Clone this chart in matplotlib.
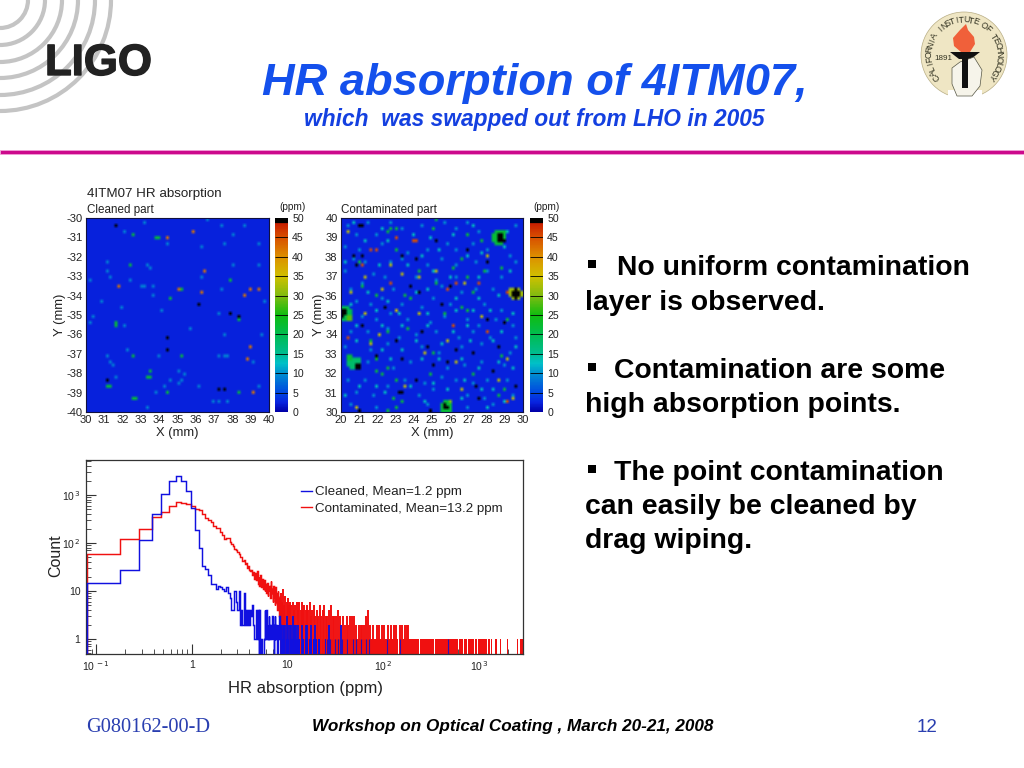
import numpy as np
import matplotlib
matplotlib.use('Agg')
import matplotlib.pyplot as plt
import matplotlib.patheffects as pe
from matplotlib.colors import LinearSegmentedColormap
from matplotlib.lines import Line2D
from matplotlib.patches import Circle, Polygon, Rectangle, Arc

plt.rcParams['font.family'] = ['Liberation Sans', 'DejaVu Sans']
plt.rcParams['axes.unicode_minus'] = False

W, H = 1024, 768

# ---- histogram data: bins of 0.1 ppm starting at 0.08 ppm
blue_counts = [15, 28, 115, 410, 1050, 2000, 2500, 2000, 1230, 525,
               185, 78, 33, 29, 22, 14, 14, 11, 13, 12,
               11, 10, 12, 9, 7, 4, 4, 10, 6, 4,
               10, 2, 4, 2, 9, 2, 4, 2, 4, 2,
               4, 3, 5, 2, 1, 1, 4, 1, 4, 0,
               4, 0, 1, 0, 0, 0, 1, 4, 1, 4,
               1, 2, 1, 3, 1, 2, 1, 1, 3, 1,
               2, 0, 1, 3, 1, 2, 1, 0, 2, 1,
               1, 3, 1, 2]
red_counts = [60, 120, 195, 350, 440, 580, 700, 680, 660, 600,
              520, 480, 400, 340, 300, 270, 230, 210, 205, 170,
              150, 120, 130, 130, 105, 95, 85, 75, 70, 65,
              58, 52, 50, 42, 44, 36, 38, 30, 33, 28,
              26, 27, 22, 25, 18, 24, 17, 26, 14, 20,
              13, 22, 12, 18, 14, 11, 17, 10, 14, 9,
              15, 8, 12, 10, 13, 7, 16, 9, 11, 6,
              13, 7, 10, 5, 12, 6, 9, 4, 10, 5,
              7, 3, 8, 4]

# sparse tail of the histograms: spike position (ppm) and count
red_spike_x = [8.5, 8.8, 9.0, 9.3, 9.5, 9.8, 10.1, 10.4, 10.7, 11.0, 11.4, 11.8, 12.1, 12.5,
               12.9, 13.3, 13.7, 14.1, 14.6, 15.0, 15.5, 16.0, 16.5, 17.0, 17.6, 18.2, 18.9,
               19.6, 20.3, 21.0, 21.8, 22.6, 23.5, 24.3, 25.2, 26.1, 27.2, 28.4, 29.6, 30.8,
               32.0, 33.5, 35.0, 36.5, 38.0, 39.8, 41.5, 43.0, 45.0, 47.5, 49.5, 52.0, 56.0,
               58.0, 60.0, 63.0, 66.0, 68.5, 72.0, 79.0, 85.0, 91.0, 97.0, 103.0, 112.0,
               120.0, 128.0, 137.0, 150.0, 158.0, 168.0, 178.0, 182.0]
red_spike_n = [9, 6, 11, 5, 8, 6, 7, 5, 6, 5, 6, 4, 5, 6, 4, 6, 4, 6, 4, 5, 4, 5, 4, 6, 3,
               4, 5, 3, 4, 3, 5, 3, 4, 5, 3, 3, 4, 5, 3, 3, 3, 4, 3, 2, 3, 2, 3, 2, 3, 3,
               3, 2, 2, 2, 2, 2, 3, 4, 2, 2, 2, 2, 2, 2, 2, 2, 2, 2, 2, 2, 2, 2, 2]
red_band_start = [8.4, 22.8, 30.0, 43.5, 51.0, 55.0, 62.0, 70.0, 82.0, 100.0, 145.0, 240.0,
                  345.0, 475.0, 540.0, 620.0, 690.0, 760.0, 830.0, 900.0, 970.0, 1060.0,
                  1140.0, 1230.0, 1320.0, 1480.0, 1670.0, 1720.0, 1980.0, 2500.0, 2700.0]
red_band_end = [22.4, 29.6, 43.0, 50.5, 54.5, 61.0, 69.0, 81.0, 99.0, 144.0, 238.0, 340.0,
                470.0, 535.0, 610.0, 680.0, 750.0, 820.0, 890.0, 955.0, 1045.0, 1120.0,
                1210.0, 1300.0, 1380.0, 1530.0, 1690.0, 1750.0, 2000.0, 2560.0, 2880.0]
blue_spike_x = [8.6, 8.9, 9.1, 9.4, 9.8, 10.1, 10.5, 10.9, 11.3, 11.6, 12.0, 12.4, 13.0, 14.2,
                15.6, 16.1, 17.7, 19.5, 27.0, 36.0]
blue_spike_n = [2, 2, 2, 2, 3, 2, 2, 2, 3, 2, 2, 2, 2, 2, 2, 2, 2, 2, 2, 2]
blue_band_start = [8.5, 9.7, 10.6, 11.7, 14.0, 15.1, 16.9, 18.3, 20.8, 24.5]
blue_band_end = [9.4, 10.3, 11.4, 13.6, 14.7, 16.4, 18.0, 20.2, 22.0, 25.4]
blue_line_x = [26, 28, 31, 33.5, 37, 42, 48, 52, 58, 66, 71, 110, 150, 470]

# ---- absorption maps, spots as (x mm, y mm) grouped by ppm level
clean_spots_8 = [(37.4, -30.45), (38.6, -30.35), (33.2, -30.25), (34.5, -31.35), (39.5, -31.3),
                 (36.4, -31.45), (31.1, -32.25), (39.5, -32.45), (31.1, -32.8), (30.2, -33.2),
                 (32.4, -33.15), (33.6, -33.45), (37.4, -33.65), (30.9, -34.25), (39.8, -34.35),
                 (31.9, -34.6), (30.35, -35.05), (32.1, -35.6), (35.7, -35.75), (32.3, -36.75),
                 (31.1, -37.15), (34.0, -37.05), (37.3, -37.15), (39.1, -37.45), (31.4, -37.35),
                 (31.5, -37.65), (35.0, -37.95), (35.2, -38.3), (31.6, -38.2), (34.3, -38.7),
                 (35.1, -38.45), (36.1, -38.6), (39.5, -38.6), (37.3, -39.4), (37.0, -39.5),
                 (37.8, -39.5), (33.3, -39.75), (32.1, -30.75), (38.0, -30.85), (37.5, -31.4),
                 (33.7, -34.05), (34.2, -34.8), (37.3, -34.95), (36.4, -33.1), (37.6, -36.05),
                 (39.55, -36.05), (37.6, -37.05), (37.8, -37.05), (35.4, -38.1), (34.6, -38.4),
                 (33.9, -39.0), (31.3, -33.05), (30.2, -35.4), (33.3, -32.5), (33.5, -32.55),
                 (38.1, -32.45), (33.0, -33.45), (33.2, -33.45), (36.7, -30.05)]
clean_spots_20 = [(32.6, -30.9), (33.9, -31.05), (34.0, -31.05), (32.4, -32.35), (37.9, -33.2),
                  (35.3, -33.65), (34.6, -34.1), (31.6, -35.35), (31.6, -35.55), (32.6, -37.05),
                  (35.2, -37.15), (33.5, -37.85), (33.5, -38.25), (33.3, -38.25), (38.4, -39.05),
                  (32.6, -39.25), (32.8, -39.25), (31.2, -38.65), (31.4, -38.65), (38.4, -35.25),
                  (34.4, -39.05)]
clean_spots_40 = [(34.4, -31.0), (35.8, -30.65), (31.8, -33.45), (35.0, -33.65), (39.0, -33.75),
                  (39.4, -33.7), (36.3, -33.85), (38.7, -34.05), (39.0, -36.6), (38.8, -37.25),
                  (39.1, -38.95), (36.5, -32.75)]
clean_spots_50 = [(31.6, -30.35), (31.7, -30.35), (36.2, -34.45), (37.9, -34.95), (38.3, -35.15),
                  (34.4, -36.1), (34.4, -36.75), (31.15, -38.4), (37.3, -38.85), (37.5, -38.8),
                  (37.2, -38.9)]

cont_spots_8 = [(20.4, 39.6), (20.9, 39.2), (21.5, 39.7), (22.0, 39.1), (22.8, 39.7), (23.3, 39.4),
                (24.4, 39.6), (25.7, 39.7), (26.4, 39.4), (27.0, 39.8), (27.6, 39.3), (29.6, 39.6),
                (20.3, 38.5), (21.0, 38.4), (22.3, 38.6), (23.7, 38.2), (24.7, 38.4), (25.9, 38.7),
                (26.3, 38.3), (27.2, 38.6), (28.0, 38.4), (29.3, 38.1), (20.7, 37.9), (21.4, 37.8),
                (22.8, 37.7), (23.3, 37.9), (24.8, 37.6), (25.6, 37.9), (26.4, 37.5), (27.4, 37.8),
                (29.6, 37.7), (20.2, 37.2), (21.8, 37.1), (22.4, 36.9), (24.2, 37.0), (25.2, 36.8),
                (26.3, 36.9), (28.1, 37.2), (28.9, 36.9), (20.6, 36.4), (21.2, 36.7), (22.9, 36.3),
                (23.8, 36.5), (25.6, 36.5), (26.7, 36.2), (27.4, 36.4), (28.3, 36.3), (20.9, 35.7),
                (21.6, 35.5), (22.3, 35.9), (23.4, 35.6), (24.4, 35.4), (25.1, 35.8), (26.0, 35.5),
                (27.9, 35.6), (28.8, 35.3), (21.1, 34.9), (22.0, 34.7), (22.7, 35.0), (23.6, 34.8),
                (24.9, 34.6), (25.7, 34.9), (26.9, 34.7), (27.6, 34.5), (28.5, 34.8), (29.4, 34.4),
                (20.5, 34.2), (21.5, 34.1), (22.5, 34.3), (23.2, 33.9), (24.2, 34.0), (25.3, 34.2),
                (26.5, 33.9), (27.3, 34.1), (28.2, 33.8), (29.6, 33.9), (20.3, 33.4), (21.7, 33.2),
                (22.6, 33.5), (24.5, 33.4), (25.4, 33.1), (26.6, 33.3), (27.7, 33.5), (28.7, 33.3),
                (29.3, 33.1), (21.5, 32.5), (22.9, 32.3), (23.9, 32.5), (25.8, 32.3), (26.8, 32.4),
                (27.8, 32.6), (29.0, 32.4), (20.4, 31.7), (21.4, 31.6), (22.5, 31.4), (23.5, 31.7),
                (24.6, 31.5), (25.5, 31.8), (26.4, 31.6), (27.3, 31.5), (28.1, 31.7), (29.2, 31.6),
                (20.9, 31.0), (21.8, 30.8), (24.3, 30.9), (25.1, 31.1), (27.0, 30.9), (27.9, 30.7),
                (29.5, 30.9), (20.6, 30.4), (22.0, 30.3), (24.7, 30.4), (26.9, 30.3), (28.4, 30.4)]
cont_spots_13 = [(20.7, 39.8), (22.3, 39.4), (24.0, 39.2), (24.9, 39.0), (26.1, 39.1), (27.3, 39.6),
                 (29.2, 39.3), (21.3, 38.8), (22.6, 38.9), (24.5, 38.0), (25.4, 38.3), (26.9, 38.0),
                 (27.7, 38.2), (29.0, 38.5), (20.3, 37.7), (22.1, 37.5), (23.7, 37.5), (25.1, 37.2),
                 (26.0, 37.0), (27.6, 37.0), (29.3, 37.3), (21.5, 36.2), (22.5, 35.7), (24.1, 36.2),
                 (24.8, 36.4), (26.3, 35.9), (27.6, 35.9), (28.6, 36.0), (20.5, 35.6), (21.9, 35.2),
                 (23.2, 35.1), (24.7, 35.1), (26.3, 35.2), (27.3, 35.3), (28.2, 35.2), (29.5, 35.0),
                 (20.9, 34.5), (22.2, 34.5), (23.4, 34.4), (24.7, 34.4), (26.2, 34.2), (27.0, 34.4),
                 (28.8, 34.2), (20.8, 33.6), (22.3, 33.2), (23.4, 33.2), (24.1, 33.6), (25.6, 33.5),
                 (27.1, 33.7), (28.3, 33.6), (29.6, 33.4), (22.7, 32.8), (24.4, 32.7), (25.4, 32.7),
                 (26.6, 32.8), (27.5, 32.2), (28.6, 32.5), (29.5, 32.3), (21.0, 31.4), (21.9, 31.3),
                 (23.9, 31.3), (25.0, 31.5), (25.9, 31.2), (26.8, 31.7), (27.7, 31.1), (28.4, 31.2),
                 (20.3, 30.9), (22.4, 31.0), (24.6, 30.6), (26.6, 30.7), (28.1, 30.2), (29.0, 30.5)]
cont_spots_20 = [(22.6, 39.35), (22.8, 39.4), (23.1, 39.45), (25.1, 39.5), (25.3, 39.9), (26.9, 39.1),
                 (27.7, 38.9), (23.0, 38.4), (21.0, 37.7), (26.1, 37.4), (26.7, 37.95), (27.9, 37.3),
                 (28.8, 37.4), (24.3, 37.2), (21.2, 36.5), (25.3, 36.7), (27.0, 37.0), (27.2, 36.1),
                 (21.9, 36.05), (23.5, 36.0), (23.9, 35.9), (26.6, 35.4), (26.9, 35.2), (25.7, 35.1),
                 (29.2, 34.7), (22.5, 34.15), (23.7, 34.3), (21.6, 33.6), (25.0, 33.0), (28.9, 32.9),
                 (22.0, 32.1), (22.3, 32.0), (22.5, 32.2), (24.9, 32.0), (27.2, 31.9), (23.0, 31.6),
                 (29.0, 31.2), (28.6, 30.9), (22.9, 30.7), (23.3, 30.6), (22.6, 30.15), (23.1, 30.25)]
cont_spots_35 = [(20.4, 39.3), (22.7, 37.6), (23.4, 37.1), (21.4, 37.0), (25.3, 37.3), (26.8, 36.65),
                 (24.3, 36.9), (20.6, 36.1), (22.2, 36.4), (23.0, 35.3), (21.3, 35.1), (24.3, 35.05),
                 (27.8, 34.9), (22.1, 34.05), (25.9, 33.7), (21.7, 33.45), (24.6, 33.05), (26.3, 32.5),
                 (29.2, 32.8), (23.5, 31.4), (26.7, 31.1), (28.7, 31.6), (29.4, 30.75), (20.8, 30.2),
                 (28.0, 38.0)]
cont_spots_45 = [(24.0, 38.8), (24.2, 38.8), (23.1, 39.0), (21.7, 38.3), (21.9, 38.3), (21.2, 37.55),
                 (26.3, 36.65), (27.5, 36.7), (25.8, 36.35), (29.1, 36.15), (22.7, 36.6), (26.1, 34.5),
                 (28.0, 34.2), (29.2, 30.6), (20.4, 33.8)]
cont_spots_50 = [(21.05, 39.55), (21.15, 39.6), (24.1, 37.85), (24.2, 37.9), (20.8, 37.55), (20.7, 38.1),
                 (21.2, 38.1), (23.3, 38.1), (25.3, 38.9), (27.0, 38.35), (28.0, 37.7), (22.4, 35.4),
                 (23.8, 36.45), (24.3, 36.15), (26.0, 36.55), (25.6, 35.6), (21.2, 34.4), (24.5, 34.1),
                 (28.0, 34.8), (29.0, 34.6), (23.0, 33.7), (24.7, 33.35), (26.4, 33.2), (27.3, 33.1),
                 (28.6, 33.35), (21.9, 32.95), (23.3, 32.7), (25.1, 32.45), (25.9, 32.6), (28.3, 32.1),
                 (24.2, 31.7), (27.4, 31.3), (23.2, 30.95), (23.35, 31.0), (29.6, 31.4), (21.0, 30.1),
                 (24.9, 30.15), (27.6, 30.7)]
# big contaminated patches: x, y, radius (mm), ppm
cont_blobs = [(28.7, 39.0, 0.42, 22), (28.75, 39.0, 0.22, 50), (28.95, 38.85, 0.12, 50),
              (29.6, 36.1, 0.38, 32), (29.6, 36.1, 0.27, 50),
              (20.25, 35.05, 0.42, 20), (20.1, 35.1, 0.22, 50), (20.5, 34.85, 0.14, 28),
              (20.75, 32.5, 0.38, 18), (20.45, 32.8, 0.16, 22), (20.95, 32.35, 0.22, 50),
              (25.8, 30.3, 0.34, 22), (25.75, 30.25, 0.15, 50), (26.0, 30.5, 0.1, 30),
              (22.0, 32.7, 0.1, 24), (22.35, 32.65, 0.1, 24)]

levels = [0, 2.5, 5, 10, 12.5, 15, 20, 25, 30, 35, 40, 45, 48.6, 48.8, 50]
level_colors = ['#0000a8', '#0824e0', '#0048e0', '#0090d0', '#00c0c8', '#00bc90', '#00bc50', '#10bc10',
                '#80bc10', '#d0c000', '#dc9000', '#d85000', '#c82000', '#000000', '#000000']
ab_cmap = LinearSegmentedColormap.from_list('ab', [(v / 50, c) for v, c in zip(levels, level_colors)])

NCELL = 64
CELL = 10 / NCELL


def px_axes(left, top, right, bottom):
    return fig.add_axes([left / W, 1 - bottom / H, (right - left) / W, (bottom - top) / H])


def make_grid(x0, y0, groups, blobs=()):
    grid = np.full((NCELL, NCELL), 2.5)
    yy, xx = np.mgrid[0:NCELL, 0:NCELL]
    for bx, by, r, val in blobs:
        inside = np.hypot(x0 + (xx + .5) * CELL - bx, y0 + (yy + .5) * CELL - by) < r
        grid[inside] = np.maximum(grid[inside], val)
    for spots, val in groups:
        for sx, sy in spots:
            grid[min(int((sy - y0) / CELL), NCELL - 1), min(int((sx - x0) / CELL), NCELL - 1)] = val
    return grid


def draw_map(box, cbox, extent, grid, yticks):
    ax = px_axes(*box)
    im = ax.imshow(grid, origin='lower', extent=extent, cmap=ab_cmap, vmin=0, vmax=50,
                   interpolation='bilinear', aspect='auto')
    ax.set_xticks(np.arange(extent[0], extent[1] + 1))
    ax.set_yticks(yticks)
    ax.tick_params(length=0, labelsize=8, pad=2.5, colors='#222222')
    ax.set_xlabel('X (mm)', fontsize=9.4, labelpad=1, color='#222222')
    ax.set_ylabel('Y (mm)', fontsize=9.4, labelpad=0, color='#222222')
    for s in ax.spines.values():
        s.set_color('#101040')
    cax = px_axes(*cbox)
    cb = fig.colorbar(im, cax=cax, ticks=np.arange(0, 51, 5))
    cb.ax.tick_params(length=0, labelsize=7.6, pad=3, colors='#222222')
    cb.outline.set_visible(False)
    cax.hlines(np.arange(5, 50, 5), 0, 1, color='black', lw=0.6, transform=cax.get_yaxis_transform())
    return ax


fig = plt.figure(figsize=(W / 100, H / 100), dpi=100)

# slide background layer, in pixel coordinates
bg = fig.add_axes([0, 0, 1, 1])
bg.set_xlim(0, W)
bg.set_ylim(H, 0)
bg.axis('off')

for r in [28, 45, 62, 78, 95, 111]:
    bg.add_patch(Arc((0, 0), 2 * r, 2 * r, theta1=0, theta2=90, color='#c4c4c4', lw=3))
bg.text(45, 75, 'LIGO', fontsize=31.5, fontweight='bold', color='#222222', va='baseline', ha='left',
        path_effects=[pe.withStroke(linewidth=1.0, foreground='#222222')])

# Caltech seal
cx, cy = 964, 55
bg.add_patch(Circle((cx, cy), 43, fc='#efe6c4', ec='#b8ad84', lw=0.5))
bg.add_patch(Rectangle((948, 90), 34, 12, fc='white', ec='none'))
seal = 'CALIFORNIA INSTITUTE OF TECHNOLOGY'
for i, ch in enumerate(seal):
    a = np.radians(-128 + 256 * i / (len(seal) - 1))
    bg.text(cx + 35 * np.sin(a), cy - 35 * np.cos(a), ch, fontsize=6.3,
            color='#333322', rotation=-np.degrees(a), ha='center', va='center', rotation_mode='anchor')
bg.add_patch(Polygon([(961, 52), (954, 46), (953, 38), (960, 30), (966, 24), (968, 30), (974, 37),
                      (975, 44), (970, 52)], fc='#f0603a', ec='none'))
bg.add_patch(Polygon([(950, 52), (980, 52), (971, 59), (959, 59)], fc='#111111', ec='none'))
bg.add_patch(Polygon([(952, 68), (960, 62), (974, 57), (982, 70), (980, 86), (972, 96), (957, 96),
                      (952, 84)], fc='#f6f4ea', ec='#555544', lw=0.5))
bg.add_patch(Rectangle((962, 58), 6, 30, fc='#111111', ec='none'))
bg.text(943, 59, '1891', fontsize=5.8, color='#333322', ha='center', va='center')

bg.add_patch(Rectangle((0, 150), W, 3.5, fc='#cc0a8c', ec='#f0a0d8', lw=0.6))

bg.text(535, 94.5, 'HR absorption of 4ITM07,', fontsize=32.6, style='italic', fontweight='bold',
        color='#1450ec', ha='center', va='baseline')
bg.text(534, 126, 'which  was swapped out from LHO in 2005', fontsize=16.4, style='italic', fontweight='bold',
        color='#1440e0', ha='center', va='baseline')

bullets = [(592, 264, 617, 268, 'No uniform contamination'), (592, 367, 614, 371, 'Contamination are some'),
           (592, 469, 614, 473, 'The point contamination')]
for bx, by, tx, ty, txt in bullets:
    bg.add_patch(Rectangle((bx - 4, by - 4), 8, 8, fc='black', ec='none'))
    bg.text(tx, ty, txt, fontsize=20.4, fontweight='bold', va='center', ha='left')
for ty, txt in [(303, 'layer is observed.'), (405, 'high absorption points.'),
                (507, 'can easily be cleaned by'), (541, 'drag wiping.')]:
    bg.text(585, ty, txt, fontsize=20.4, fontweight='bold', va='center', ha='left')

bg.text(86, 727, 'G080162-00-D', fontsize=14.7, family='Liberation Serif', color='#2a3fb0', va='center')
bg.text(513, 726, 'Workshop on Optical Coating , March 20-21, 2008', fontsize=12.3, style='italic',
        fontweight='bold', ha='center', va='center')
bg.text(927, 727, '12', fontsize=13.5, color='#2a3fb0', ha='center', va='center')

# maps
clean_grid = make_grid(30, -40, [(clean_spots_8, 9), (clean_spots_20, 22), (clean_spots_40, 42),
                                 (clean_spots_50, 50)])
cont_grid = make_grid(20, 30, [(cont_spots_13, 13), (cont_spots_8, 10), (cont_spots_20, 22), (cont_spots_35, 34),
                               (cont_spots_45, 45), (cont_spots_50, 50)], cont_blobs)
draw_map((86, 218, 269, 412), (275, 218, 288, 412), [30, 40, -40, -30], clean_grid, np.arange(-40, -29))
draw_map((341, 218, 523, 412), (530, 218, 543, 412), [20, 30, 30, 40], cont_grid, np.arange(30, 41))

bg.text(87, 194, '4ITM07 HR absorption', fontsize=9.6, color='#222222', va='center')
bg.text(87, 210, 'Cleaned part', fontsize=8.4, color='#222222', va='center')
bg.text(341, 210, 'Contaminated part', fontsize=8.4, color='#222222', va='center')
bg.text(292, 207, '(ppm)', fontsize=7.3, color='#222222', ha='center', va='center')
bg.text(547, 207, '(ppm)', fontsize=7.3, color='#222222', ha='center', va='center')

# histogram
ax = px_axes(86, 460, 523, 654)
ax.set_xscale('log')
ax.set_yscale('log')
edges = 0.08 + 0.1 * np.arange(len(red_counts) + 1)
lw = 1.05
red, blue = '#f01010', '#1010e0'
ax.stairs(red_counts, edges, color=red, lw=lw, baseline=0.3, zorder=2)
ax.vlines(red_spike_x, 0.3, red_spike_n, color=red, lw=1.4, zorder=2)
ax.bar(red_band_start, 0.7, np.array(red_band_end) - np.array(red_band_start), bottom=0.3,
       align='edge', color=red, lw=0, zorder=2)
ax.stairs(blue_counts, edges, color=blue, lw=lw, baseline=0.3, zorder=3)
ax.vlines(blue_spike_x, 0.3, blue_spike_n, color=blue, lw=1.3, zorder=3)
ax.bar(blue_band_start, 0.7, np.array(blue_band_end) - np.array(blue_band_start), bottom=0.3,
       align='edge', color=blue, lw=0, zorder=3)
ax.vlines(blue_line_x, 0.3, 1, color='#3010b0', lw=0.8, zorder=3)
ax.set_xlim(0.0786, 2880)
ax.set_ylim(0.487, 5370)
ax.tick_params(which='both', direction='in', top=False, right=False, color='#333333')
ax.tick_params(which='major', length=7, width=0.8)
ax.tick_params(which='minor', length=3.5, width=0.6)
ax.set_xticks([0.1, 1, 10, 100, 1000])
ax.set_xticklabels([r'10$^{\,-1}$', '1', '10', r'10$^{\,2}$', r'10$^{\,3}$'], fontsize=7.5, color='#222222')
ax.set_yticks([1, 10, 100, 1000])
ax.set_yticklabels(['1', '10', r'10$^{\,2}$', r'10$^{\,3}$'], fontsize=7.5, color='#222222')
ax.tick_params(axis='x', pad=4)
ax.tick_params(axis='y', pad=4)
ax.xaxis.set_minor_formatter(matplotlib.ticker.NullFormatter())
ax.yaxis.set_minor_formatter(matplotlib.ticker.NullFormatter())
for s in ax.spines.values():
    s.set_color('#333333')
    s.set_linewidth(0.9)
ax.legend([Line2D([], [], color=blue, lw=1), Line2D([], [], color=red, lw=1)],
          ['Cleaned, Mean=1.2 ppm', 'Contaminated, Mean=13.2 ppm'], frameon=False, fontsize=9.6,
          loc='upper left', bbox_to_anchor=(215 / 437, 1 - 26 / 194), borderaxespad=0, borderpad=0,
          handlelength=0.85, handletextpad=0.2, labelspacing=0.3, labelcolor='#222222')
bg.text(305, 688, 'HR absorption (ppm)', fontsize=12, color='#222222', ha='center', va='center')
bg.text(56, 556, 'Count', fontsize=11.5, color='#222222', rotation=90, ha='center', va='center')

fig.savefig('out.png', dpi=100)
